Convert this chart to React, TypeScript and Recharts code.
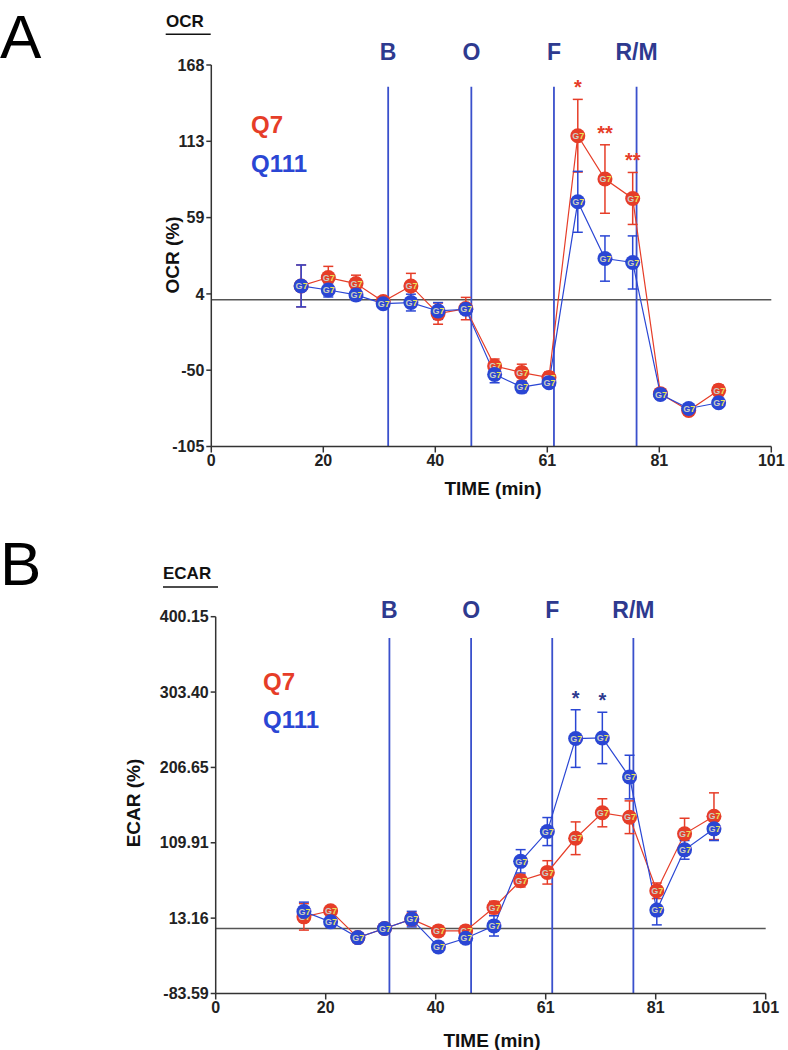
import React from "react";
import {
  LineChart,
  Line,
  XAxis,
  YAxis,
  ErrorBar,
  ReferenceLine,
  LabelList,
} from "recharts";

// sampling times (min), shared by both panels
const times = [16.2, 21.1, 26.1, 31.0, 36.0, 40.9, 45.9, 51.1, 56.0, 60.9, 66.1, 71.0, 76.0, 81.0, 86.1, 91.5];

// injection lines
const phaseNames = ["B", "O", "F", "R/M"];
const phaseTimes = [31.9, 46.9, 61.8, 76.7];

// panel A: OCR (%)
const ocrQ7 = [9.9, 15.9, 11.6, -1.3, 9.9, -9.9, -6.3, -47.4, -52.1, -55.7, 117.4, 86.4, 72.5, -67.2, -79.2, -64.8];
const ocrQ7Err = [15, 8, 6, 3, 9, 7.6, 8, 5, 6, 4, 26, 24.5, 18.6, 3, 3, 4];
const ocrQ111 = [9.9, 7.0, 3.5, -2.8, -2.0, -8.0, -6.8, -53.4, -62.5, -59.3, 70.1, 29.5, 26.7, -67.7, -77.8, -73.7];
const ocrQ111Err = [15, 5, 4, 2, 6, 6, 3, 6, 4, 3, 21.8, 16.2, 19, 3, 3, 3];
const ocrQ7Sig = ["", "", "", "", "", "", "", "", "", "", "*", "**", "**", "", "", ""];
const ocrTicks = [-105, -50.4, 4.2, 58.8, 113.4, 168];

// panel B: ECAR (%)
const ecarQ7 = [14.8, 22.6, -11.8, -0.2, 11.9, -3.2, -3.2, 26.8, 61.2, 71.9, 115.7, 148.4, 142.7, 48.3, 121.4, 144];
const ecarQ7Err = [17, 5, 4, 3, 8, 6, 5, 8, 8, 15, 21, 18, 21, 10, 20, 30];
const ecarQ111 = [21.7, 8.4, -11.8, -0.2, 11.9, -23.8, -12.6, 3.2, 86.1, 124.3, 243.7, 244.5, 194.3, 23.5, 100.8, 127.8];
const ecarQ111Err = [12, 6, 5, 4, 10, 5, 5, 13, 15, 18, 37, 33, 28, 19, 12, 15];
const ecarQ111Sig = ["", "", "", "", "", "", "", "", "", "", "*", "*", "", "", "", ""];
const ecarTicks = [-83.59, 13.16, 109.91, 206.65, 303.4, 400.15];

const xTicks = [0, 20.2, 40.4, 60.6, 80.8, 101];

const RED = "#e63d28";
const BLUE = "#2a46d4";
const NAVY = "#2e3a8f";
const PHASE = "#3a50cc";
const FONT = "'Liberation Sans', Arial, sans-serif";

const buildRows = (a: number[], aErr: number[], b: number[], bErr: number[], aSig: string[], bSig: string[]) =>
  times.map((t, i) => ({
    t,
    q7: a[i],
    q7Err: aErr[i],
    q111: b[i],
    q111Err: bErr[i],
    q7Star: aSig[i] ? a[i] + aErr[i] : null,
    q7Sig: aSig[i] || undefined,
    q111Star: bSig[i] ? b[i] + bErr[i] : null,
    q111Sig: bSig[i] || undefined,
  }));

const blank = times.map(() => "");
const ocrRows = buildRows(ocrQ7, ocrQ7Err, ocrQ111, ocrQ111Err, ocrQ7Sig, blank);
const ecarRows = buildRows(ecarQ7, ecarQ7Err, ecarQ111, ecarQ111Err, blank, ecarQ111Sig);

const makeDot = (color: string) => (props: any) => {
  const { cx, cy, index } = props;
  if (cx == null || cy == null) return <g key={`d${index}`} />;
  return (
    <g key={`d${index}`}>
      <circle cx={cx} cy={cy} r={7.5} fill={color} />
      <text x={cx - 5.5} y={cy + 3.2} fontSize={9} fontWeight="bold" fontFamily={FONT} fill="#c9ccc4">
        G<tspan fill="#e9e35a">7</tspan>
      </text>
    </g>
  );
};

const tickStyle = { fontSize: 16, fontWeight: "bold", fill: "#222", fontFamily: FONT };

function Panel(props: {
  rows: any[];
  domain: [number, number];
  yTicks: number[];
  fmt: (v: number) => string;
  height: number;
  margin: { top: number; right: number; bottom: number; left: number };
  yWidth: number;
  phaseTop: number;
  phaseGap: number;
}) {
  const { rows, domain, yTicks, fmt, height, margin, yWidth, phaseTop, phaseGap } = props;
  return (
    <LineChart width={788} height={height} data={rows} margin={margin}>
      <XAxis
        type="number"
        dataKey="t"
        domain={[0, 101]}
        ticks={xTicks}
        tickFormatter={(v) => String(Math.round(v))}
        tick={tickStyle}
        tickSize={6}
        height={30}
        stroke="#333"
        strokeWidth={1.5}
      />
      <YAxis
        type="number"
        domain={domain}
        ticks={yTicks}
        tickFormatter={fmt}
        tick={tickStyle}
        tickSize={5}
        width={yWidth}
        stroke="#333"
        strokeWidth={1.5}
      />
      <ReferenceLine y={0} stroke="#555" strokeWidth={1.5} />
      {phaseTimes.map((p, i) => (
        <ReferenceLine
          key={phaseNames[i]}
          segment={[
            { x: p, y: domain[0] },
            { x: p, y: phaseTop },
          ]}
          stroke={PHASE}
          strokeWidth={1.8}
          label={(lp: any) => (
            <text
              x={lp.viewBox.x}
              y={lp.viewBox.y - phaseGap}
              textAnchor="middle"
              fontSize={23}
              fontWeight="bold"
              fontFamily={FONT}
              fill={NAVY}
            >
              {phaseNames[i]}
            </text>
          )}
        />
      ))}
      <Line
        dataKey="q7"
        stroke={RED}
        strokeWidth={1.2}
        dot={makeDot(RED)}
        isAnimationActive={false}
      >
        <ErrorBar dataKey="q7Err" width={5} stroke={RED} strokeWidth={1.5} direction="y" />
      </Line>
      <Line
        dataKey="q111"
        stroke={BLUE}
        strokeWidth={1.2}
        dot={makeDot(BLUE)}
        isAnimationActive={false}
      >
        <ErrorBar dataKey="q111Err" width={5} stroke={BLUE} strokeWidth={1.5} direction="y" />
      </Line>
      <Line dataKey="q7Star" stroke="none" dot={false} isAnimationActive={false} connectNulls={false}>
        <LabelList dataKey="q7Sig" position="top" offset={5} fill={RED} fontSize={20} fontWeight="bold" fontFamily={FONT} />
      </Line>
      <Line dataKey="q111Star" stroke="none" dot={false} isAnimationActive={false} connectNulls={false}>
        <LabelList dataKey="q111Sig" position="top" offset={5} fill={NAVY} fontSize={20} fontWeight="bold" fontFamily={FONT} />
      </Line>
    </LineChart>
  );
}

export default function App() {
  const txt = { fontFamily: FONT, fontWeight: "bold" as const };
  return (
    <div style={{ position: "absolute", left: 0, top: 0, width: 788, height: 1050, background: "#fff" }}>
      <div style={{ position: "absolute", left: 0, top: 0 }}>
        <Panel
          rows={ocrRows}
          domain={[-105, 168]}
          yTicks={ocrTicks}
          fmt={(v) => String(Math.round(v))}
          height={520}
          margin={{ top: 65, right: 16.7, bottom: 43.5, left: 151.3 }}
          yWidth={60}
          phaseTop={152.5}
          phaseGap={27}
        />
      </div>
      <div style={{ position: "absolute", left: 0, top: 540 }}>
        <Panel
          rows={ecarRows}
          domain={[-83.59, 400.15]}
          yTicks={ecarTicks}
          fmt={(v) => v.toFixed(2)}
          height={510}
          margin={{ top: 76.7, right: 22.3, bottom: 26.5, left: 145.7 }}
          yWidth={70}
          phaseTop={372.7}
          phaseGap={20}
        />
      </div>
      <svg width={788} height={1050} style={{ position: "absolute", left: 0, top: 0, pointerEvents: "none" }}>
        <text x={0} y={58} fontSize={62} fontFamily={FONT} fill="#000">A</text>
        <text x={166} y={27} fontSize={17} {...txt} fill="#111">OCR</text>
        <line x1={165.7} x2={210.7} y1={34.3} y2={34.3} stroke="#111" strokeWidth={1.5} />
        <text x={251} y={133} fontSize={24} {...txt} fill={RED}>Q7</text>
        <text x={251} y={171.5} fontSize={24} {...txt} fill={BLUE}>Q111</text>
        <text x={172} y={255} fontSize={19} {...txt} fill="#111" textAnchor="middle" dominantBaseline="central" transform="rotate(-90 172 255)">OCR (%)</text>
        <text x={493} y={495} fontSize={19} {...txt} fill="#111" textAnchor="middle">TIME (min)</text>

        <text x={0} y={585} fontSize={62} fontFamily={FONT} fill="#000">B</text>
        <text x={163} y={579} fontSize={17} {...txt} fill="#111">ECAR</text>
        <line x1={163} x2={218} y1={587} y2={587} stroke="#111" strokeWidth={1.5} />
        <text x={263} y={690} fontSize={24} {...txt} fill={RED}>Q7</text>
        <text x={263} y={728} fontSize={24} {...txt} fill={BLUE}>Q111</text>
        <text x={133} y={803} fontSize={19} {...txt} fill="#111" textAnchor="middle" dominantBaseline="central" transform="rotate(-90 133 803)">ECAR (%)</text>
        <text x={492} y={1047} fontSize={19} {...txt} fill="#111" textAnchor="middle">TIME (min)</text>
      </svg>
    </div>
  );
}
